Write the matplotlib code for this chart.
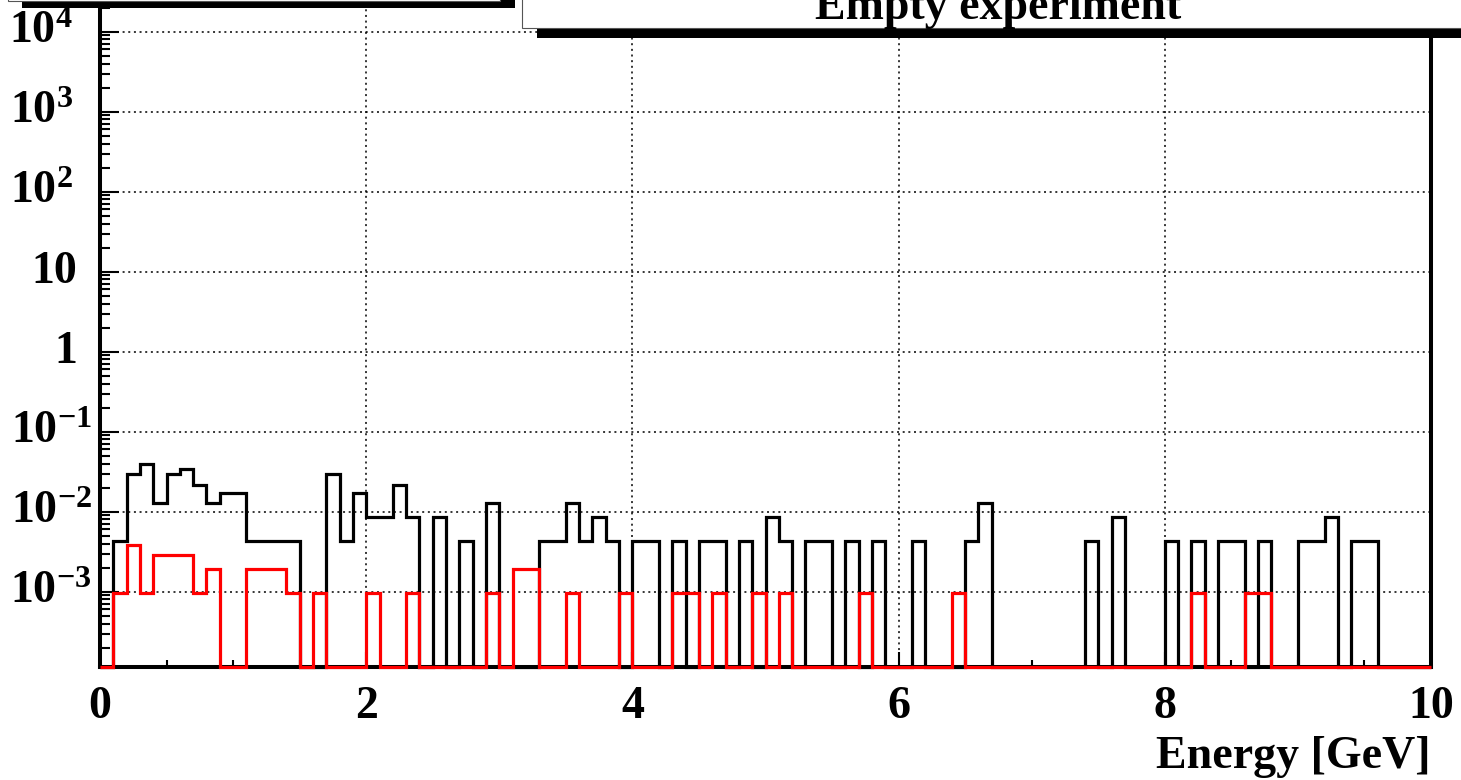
import matplotlib.pyplot as plt
import matplotlib.transforms as mtransforms
import numpy as np
from matplotlib.patches import Rectangle
from matplotlib.ticker import FixedLocator, LogLocator, MultipleLocator, NullFormatter

# ROOT-like look: bold Times-style text everywhere
plt.rcParams["font.family"] = ["Liberation Serif", "DejaVu Serif"]
plt.rcParams["font.weight"] = "bold"
plt.rcParams["axes.labelweight"] = "bold"
plt.rcParams["mathtext.fontset"] = "custom"
plt.rcParams["mathtext.rm"] = "Liberation Serif:bold"
plt.rcParams["mathtext.bf"] = "Liberation Serif:bold"
plt.rcParams["mathtext.it"] = "Liberation Serif:bold:italic"

# Energy binning (GeV)
e_min, e_max, n_bins = 0.0, 10.0, 100

# bin contents (0 = empty bin)
all_events = [
    0, 0.0043, 0.030, 0.039, 0.013, 0.030, 0.034, 0.0216, 0.013, 0.0173,
    0.0173, 0.0043, 0.0043, 0.0043, 0.0043, 0, 0, 0.030, 0.0043, 0.0173,
    0.0087, 0.0087, 0.0216, 0.0087, 0, 0.0087, 0, 0.0043, 0, 0.013,
    0, 0, 0, 0.0043, 0.0043, 0.013, 0.0043, 0.0087, 0.0043, 0,
    0.0043, 0.0043, 0, 0.0043, 0, 0.0043, 0.0043, 0, 0.0043, 0,
    0.0087, 0.0043, 0, 0.0043, 0.0043, 0, 0.0043, 0, 0.0043, 0,
    0, 0.0043, 0, 0, 0, 0.0043, 0.013, 0, 0, 0,
    0, 0, 0, 0, 0.0043, 0, 0.0087, 0, 0, 0,
    0.0043, 0, 0.0043, 0, 0.0043, 0.0043, 0, 0.0043, 0, 0,
    0.0043, 0.0043, 0.0087, 0, 0.0043, 0.0043, 0, 0, 0, 0,
]
selected_events = [
    0, 0.00097, 0.0038, 0.00097, 0.0029, 0.0029, 0.0029, 0.00097, 0.0019, 0,
    0, 0.0019, 0.0019, 0.0019, 0.00097, 0, 0.00097, 0, 0, 0,
    0.00097, 0, 0, 0.00097, 0, 0, 0, 0, 0, 0.00097,
    0, 0.0019, 0.0019, 0, 0, 0.00097, 0, 0, 0, 0.00097,
    0, 0, 0, 0.00097, 0.00097, 0, 0.00097, 0, 0, 0.00097,
    0, 0.00097, 0, 0, 0, 0, 0, 0.00097, 0, 0,
    0, 0, 0, 0, 0.00097, 0, 0, 0, 0, 0,
    0, 0, 0, 0, 0, 0, 0, 0, 0, 0,
    0, 0, 0.00097, 0, 0, 0, 0.00097, 0.00097, 0, 0,
    0, 0, 0, 0, 0, 0, 0, 0, 0, 0,
]

y_ticks = [1e-3, 1e-2, 1e-1, 1, 10, 1e2, 1e3, 1e4]
y_tick_labels = [r"$10^{-3}$", r"$10^{-2}$", r"$10^{-1}$", "1", "10",
                 r"$10^{2}$", r"$10^{3}$", r"$10^{4}$"]
x_ticks = [0, 2, 4, 6, 8, 10]

title = "Empty experiment"
x_label = "Energy [GeV]"

# y range in decades (log10)
y_lo, y_hi = -3.9375, 4.45

# --- layout in pixels
W, H = 1461, 780
left_px, right_px, bottom_px = 100, 1431, 666.7
px_per_decade = 80
height_px = (y_hi - y_lo) * px_per_decade

fig = plt.figure(figsize=(W / 100, H / 100), dpi=100)
ax = fig.add_axes([left_px / W, (H - bottom_px) / H,
                   (right_px - left_px) / W, height_px / H])

edges = np.linspace(e_min, e_max, n_bins + 1)
floor = 10 ** y_lo
black = np.where(np.array(all_events) > 0, all_events, floor)
red = np.where(np.array(selected_events) > 0, selected_events, floor)

ax.stairs(black, edges, color="black", lw=2.3, baseline=None, zorder=3, clip_on=False)
ax.stairs(red, edges, color="red", lw=2.3, baseline=None, zorder=3.1, clip_on=False)

ax.set_yscale("log")
ax.set_xlim(e_min, e_max)
ax.set_ylim(10 ** y_lo, 10 ** y_hi)

ax.yaxis.set_major_locator(FixedLocator(y_ticks))
ax.yaxis.set_major_formatter(NullFormatter())
ax.yaxis.set_minor_locator(LogLocator(base=10, subs=np.arange(2, 10), numticks=20))
ax.yaxis.set_minor_formatter(NullFormatter())
ax.set_xticks(x_ticks)
ax.set_xticklabels([str(t) for t in x_ticks])
ax.xaxis.set_minor_locator(MultipleLocator(0.5))

ax.tick_params(axis="both", which="both", direction="in", top=False, right=False,
               width=1.5, labelsize=33)
ax.tick_params(axis="y", which="major", length=14)
ax.tick_params(axis="y", which="minor", length=7)
ax.tick_params(axis="x", which="major", length=11, pad=14)
ax.tick_params(axis="x", which="minor", length=5)

# y labels placed like ROOT does: right edge depends on the label form
label_tr = mtransforms.blended_transform_factory(fig.transFigure, ax.transData)
for val, lab in zip(y_ticks, y_tick_labels):
    if "-" in lab:
        right_edge = 92
    elif lab.startswith("$"):
        right_edge = 73
    else:
        right_edge = 77
    ax.text(right_edge / W, val, lab, transform=label_tr, ha="right", va="center",
            fontsize=33, fontweight="bold", clip_on=False)

ax.grid(True, which="major", color="black", lw=1.1, linestyle=(0, (1.3, 2.4)))
for s in ax.spines.values():
    s.set_linewidth(2.9)

ax.set_xlabel(x_label, loc="right", fontsize=33, fontweight="bold", labelpad=6)

# --- pave boxes at the top (cut by the canvas edge), with ROOT-style shadows
def px_rect(x0, y0, x1, y1, **kw):
    return Rectangle((x0 / W, 1 - y1 / H), (x1 - x0) / W, (y1 - y0) / H,
                     transform=fig.transFigure, **kw)

fig.patches.append(px_rect(22, -60, 515, 8, facecolor="black", edgecolor="none", zorder=5))
fig.patches.append(px_rect(8, -70, 500, 1, facecolor="white", edgecolor="#555555",
                           lw=0.8, zorder=6))
fig.patches.append(px_rect(537, -60, 1480, 38, facecolor="black", edgecolor="none", zorder=5))
fig.patches.append(px_rect(522, -70, 1470, 28, facecolor="white", edgecolor="#555555",
                           lw=0.8, zorder=6))
fig.text(998 / W, 1 - 19 / H, title, ha="center", va="baseline", fontsize=33,
         fontweight="bold", zorder=7)

plt.savefig("out.png", dpi=100)
